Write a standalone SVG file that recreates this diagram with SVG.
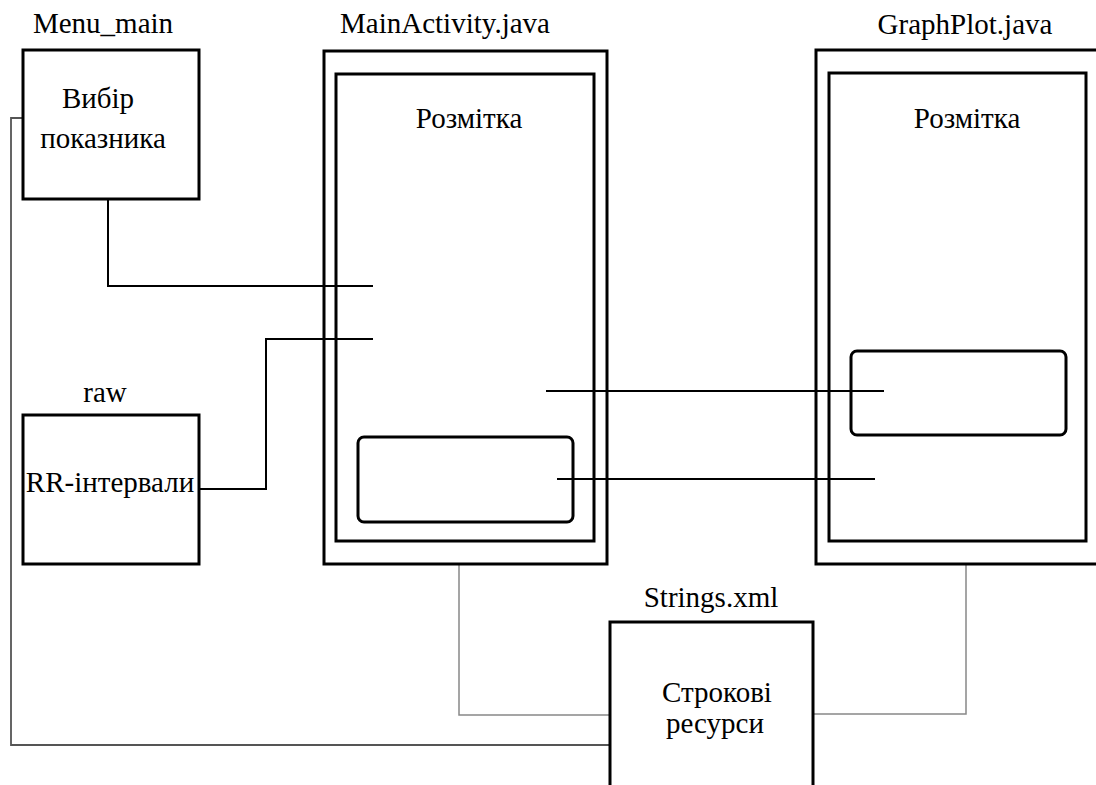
<svg xmlns="http://www.w3.org/2000/svg" width="1096" height="785" viewBox="0 0 1096 785">
<style>
  .box { fill: none; stroke: #000; stroke-width: 3; }
  .t { font-family: "Liberation Serif", "Times New Roman", serif; font-size: 29px; fill: #000; text-anchor: middle; }
  .c { fill: none; stroke: #000; stroke-width: 2; }
  .g1 { fill: none; stroke: #555; stroke-width: 1.8; }
  .g2 { fill: none; stroke: #888; stroke-width: 1.5; }
</style>
<rect width="1096" height="785" fill="#fff"/>
<g id="connectors">
  <path class="c" d="M108,199 V286 H373"/>
  <path class="c" d="M199,489 H266 V339 H373"/>
  <path class="c" d="M546,391 H884"/>
  <path class="c" d="M557,479 H875"/>
  <path class="g1" d="M23,118 H11 V745 H610"/>
  <path class="g2" d="M459,564 V715 H610"/>
  <path class="g2" d="M966,564 V714 H813"/>
</g>
<g id="menu_main">
  <text class="t" x="103" y="33">Menu_main</text>
  <rect class="box" x="23" y="50" width="176" height="149"/>
  <text class="t" x="98" y="108">Вибір</text>
  <text class="t" x="103" y="148">показника</text>
</g>
<g id="raw">
  <text class="t" x="105" y="402">raw</text>
  <rect class="box" x="23" y="415" width="176" height="149"/>
  <text class="t" x="110" y="492">RR-інтервали</text>
</g>
<g id="main_activity">
  <text class="t" x="445" y="33">MainActivity.java</text>
  <rect class="box" x="324" y="51" width="283" height="513"/>
  <rect class="box" x="336" y="74" width="258" height="467"/>
  <text class="t" x="469" y="128">Розмітка</text>
  <rect class="box" x="358" y="437" width="215" height="85" rx="6"/>
</g>
<g id="graph_plot">
  <text class="t" x="965" y="34">GraphPlot.java</text>
  <rect class="box" x="816" y="50" width="283" height="514"/>
  <rect class="box" x="829" y="73" width="257" height="468"/>
  <text class="t" x="967" y="128">Розмітка</text>
  <rect class="box" x="851" y="351" width="215" height="84" rx="6"/>
</g>
<g id="strings_xml">
  <text class="t" x="711" y="607">Strings.xml</text>
  <rect class="box" x="610" y="622" width="203" height="180"/>
  <text class="t" x="717" y="702">Строкові</text>
  <text class="t" x="715" y="733">ресурси</text>
</g>
</svg>
